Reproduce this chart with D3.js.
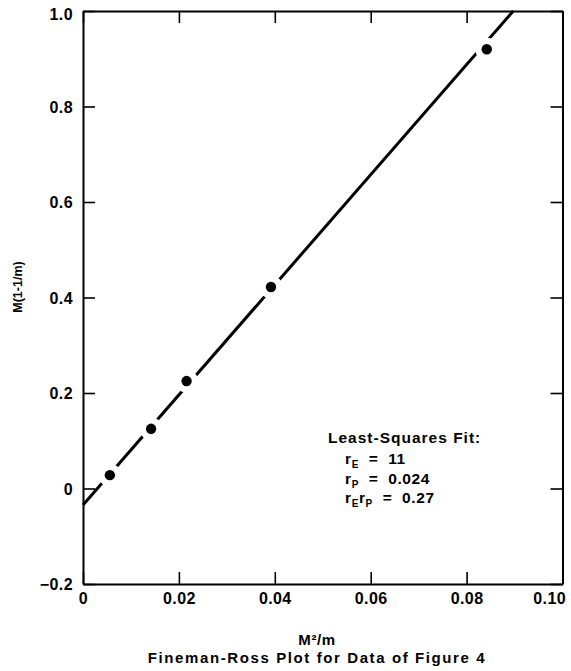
<!DOCTYPE html>
<html>
<head>
<meta charset="utf-8">
<script src="https://cdn.jsdelivr.net/npm/d3@7"></script>
<style>
  body { margin: 0; background: #fff; }
  text { font-family: "Liberation Sans", Arial, Helvetica, sans-serif; font-weight: bold; fill: #000; }
</style>
</head>
<body>
<svg width="571" height="671"></svg>
<script>
// data
var xValues = [0.0056, 0.0142, 0.0216, 0.0392, 0.0842];
var yValues = [0.028, 0.125, 0.225, 0.422, 0.920];

// fitted line as drawn
var fitIntercept = -0.0346,
    fitSlope = 11.53;

var xTicks = [0, 0.02, 0.04, 0.06, 0.08, 0.10];
var xTickLabels = ["0", "0.02", "0.04", "0.06", "0.08", "0.10"];
var yTicks = [-0.2, 0, 0.2, 0.4, 0.6, 0.8, 1.0];
var yTickLabels = ["\u22120.2", "0", "0.2", "0.4", "0.6", "0.8", "1.0"];

var fitTitle = "Least-Squares Fit:";
var fitSubs = [["E"], ["P"], ["E", "P"]];
var fitValues = ["11", "0.024", "0.27"];

var xTitle = "M\u00b2/m";
var yTitle = "M(1-1/m)";
var chartTitle = "Fineman-Ross Plot for Data of Figure 4";

var plotLeft = 83, plotRight = 562.5, plotTop = 11, plotBottom = 584;

var svg = d3.select("svg");

var x = d3.scaleLinear().domain([0, 0.1]).range([plotLeft, plotRight]);
var y = d3.scaleLinear().domain([-0.2, 1.0]).range([plotBottom, plotTop]);

// axes, ticks pointing inward
var tickLen = 12;

var axL = svg.append("g")
    .attr("transform", "translate(" + plotLeft + ",0)")
    .call(d3.axisLeft(y).tickValues(yTicks)
        .tickFormat(function (d, i) { return yTickLabels[i]; })
        .tickSizeInner(-tickLen).tickSizeOuter(0).tickPadding(10));

var axB = svg.append("g")
    .attr("transform", "translate(0," + plotBottom + ")")
    .call(d3.axisBottom(x).tickValues(xTicks)
        .tickFormat(function (d, i) { return xTickLabels[i]; })
        .tickSizeInner(-tickLen).tickSizeOuter(0).tickPadding(9));

var axR = svg.append("g")
    .attr("transform", "translate(" + plotRight + ",0)")
    .call(d3.axisRight(y).tickValues(yTicks)
        .tickFormat("").tickSizeInner(-tickLen).tickSizeOuter(0));

var axT = svg.append("g")
    .attr("transform", "translate(0," + plotTop + ")")
    .call(d3.axisTop(x).tickValues(xTicks)
        .tickFormat("").tickSizeInner(-tickLen).tickSizeOuter(0));

svg.selectAll(".domain").attr("stroke", "#000").attr("stroke-width", 2);
svg.selectAll(".tick line").attr("stroke", "#000").attr("stroke-width", 1.6);
svg.selectAll(".tick text")
    .style("font-size", "16px")
    .style("letter-spacing", "0.4px")
    .attr("fill", "#000");
axL.selectAll(".tick text").attr("dy", "0.35em");
// last x label sits a bit left, as in the print
axB.selectAll(".tick text").filter(function (d) { return d === 0.10; })
    .attr("text-anchor", "end").attr("dx", 3);
axL.selectAll(".tick text").filter(function (d) { return d === 1.0; })
    .attr("dy", "0.55em");

// fitted line, clipped at the top frame
var xEnd = (1.0 - fitIntercept) / fitSlope;
var lineData = [0, xEnd].map(function (v) { return [v, fitIntercept + fitSlope * v]; });

svg.append("path")
    .datum(lineData)
    .attr("fill", "none")
    .attr("stroke", "#000")
    .attr("stroke-width", 3)
    .attr("d", d3.line()
        .x(function (d) { return x(d[0]); })
        .y(function (d) { return y(d[1]); }));

var pts = xValues.map(function (v, i) { return [v, yValues[i]]; });

// white gaps in the line round each point
svg.selectAll("circle.gap")
    .data(pts)
    .enter()
    .append("circle")
    .attr("class", "gap")
    .attr("cx", function (d) { return x(d[0]); })
    .attr("cy", function (d) { return y(d[1]); })
    .attr("r", 11.5)
    .attr("fill", "#fff");

svg.selectAll("circle.dot")
    .data(pts)
    .enter()
    .append("circle")
    .attr("class", "dot")
    .attr("cx", function (d) { return x(d[0]); })
    .attr("cy", function (d) { return y(d[1]); })
    .attr("r", 5.2)
    .attr("fill", "#000");

// fit annotation
svg.append("text")
    .attr("x", 328)
    .attr("y", 443)
    .style("font-size", "15.5px")
    .style("letter-spacing", "1px")
    .text(fitTitle);

fitValues.forEach(function (val, i) {
    var t = svg.append("text")
        .attr("x", 345)
        .attr("y", 464 + i * 19.5)
        .style("font-size", "15.5px")
        .style("letter-spacing", "0.6px")
        .style("white-space", "pre");
    var shift = 0;
    fitSubs[i].forEach(function (s) {
        t.append("tspan").attr("dy", -shift).text("r");
        t.append("tspan").attr("dy", 4).style("font-size", "10px").text(s);
        shift = 4;
    });
    t.append("tspan").attr("dy", -shift).text("  =  " + val);
});

// axis titles
svg.append("text")
    .attr("transform", "translate(22,287) rotate(-90)")
    .attr("text-anchor", "middle")
    .style("font-size", "12.5px")
    .text(yTitle);

svg.append("text")
    .attr("x", 317)
    .attr("y", 645)
    .attr("text-anchor", "middle")
    .style("font-size", "15px")
    .style("letter-spacing", "0.6px")
    .text(xTitle);

svg.append("text")
    .attr("x", 317)
    .attr("y", 663)
    .attr("text-anchor", "middle")
    .style("font-size", "15px")
    .style("letter-spacing", "1.6px")
    .text(chartTitle);
</script>
</body>
</html>
